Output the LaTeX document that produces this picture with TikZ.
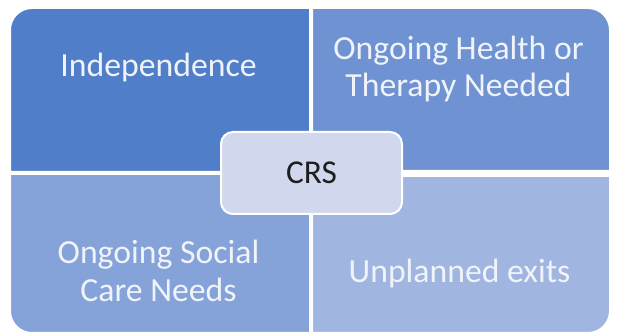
\documentclass[tikz,border=0pt]{standalone}
\usepackage{fontspec}
\setmainfont{Carlito}
\definecolor{qone}{RGB}{81,126,200}
\definecolor{qtwo}{RGB}{110,146,210}
\definecolor{qthree}{RGB}{133,163,216}
\definecolor{qfour}{RGB}{160,182,224}
\definecolor{hubfill}{RGB}{209,215,236}
\definecolor{lighttext}{RGB}{240,243,250}
\definecolor{darktext}{RGB}{30,30,30}
\tikzset{
  quad/.style={draw=white, line width=1.5pt},
  quadlabel/.style={text=lighttext, align=center, inner sep=0pt,
    font=\fontsize{25.3}{28}\selectfont},
  hub/.style={draw=white, line width=1.5pt, fill=hubfill, rounded corners=9pt,
    minimum width=181*0.75pt, minimum height=82*0.75pt, inner sep=0pt,
    text=darktext, font=\fontsize{25}{27.75}\selectfont},
}
\begin{document}
\begin{tikzpicture}[x=0.75pt, y=0.75pt]
\useasboundingbox (0,0) rectangle (617,335);
\def\rr{22}
% four quadrants, each with one rounded outer corner
\path[quad, fill=qone] (10,163) -- (10,327-\rr) arc[start angle=180, end angle=90, radius=\rr]
  -- (310,327) -- (310,163) -- cycle;
\path[quad, fill=qtwo] (312,164) -- (312,327) -- (610-\rr,327)
  arc[start angle=90, end angle=0, radius=\rr] -- (610,164) -- cycle;
\path[quad, fill=qthree] (10,161) -- (310,161) -- (310,2) -- (10+\rr,2)
  arc[start angle=270, end angle=180, radius=\rr] -- cycle;
\path[quad, fill=qfour] (312,159) -- (610,159) -- (610,2+\rr)
  arc[start angle=0, end angle=-90, radius=\rr] -- (312,2) -- cycle;
% quadrant labels
\node[quadlabel, anchor=base] (indep) at (158.5,258) {Independence};
\node[quadlabel, anchor=center] (health) at (458.5,266) {Ongoing Health or\\Therapy Needed};
\node[quadlabel, anchor=center] (social) at (158.5,64) {Ongoing Social\\Care Needs};
\node[quadlabel, anchor=base] (exits) at (459.5,52) {Unplanned exits};
% central hub
\node[hub] (crs) at (311.5,162) {CRS};
\end{tikzpicture}
\end{document}
